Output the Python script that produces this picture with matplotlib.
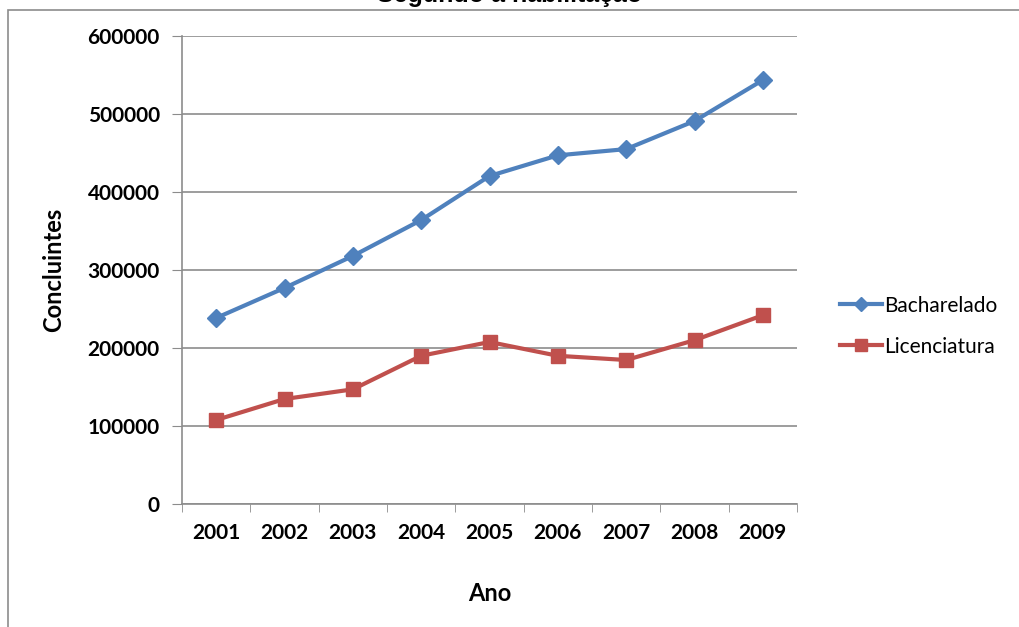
import matplotlib.pyplot as plt
from matplotlib.patches import Rectangle

anos = ["2001", "2002", "2003", "2004", "2005", "2006", "2007", "2008", "2009"]
bacharelado = [238500, 277000, 318000, 364000, 420500, 447000, 455000, 491000, 543500]
licenciatura = [107700, 134600, 147000, 190000, 207700, 190000, 184600, 210000, 242000]
yticks = [0, 100000, 200000, 300000, 400000, 500000, 600000]

plt.rcParams['font.family'] = ['Lato', 'DejaVu Sans']

fig = plt.figure(figsize=(10.19, 6.27), dpi=100)
W, H = 1019, 627

# borda da área do gráfico (estilo Excel)
fig.patches.append(Rectangle((8 / W, -0.1), 1.2, (H - 10) / H + 0.1, transform=fig.transFigure,
                             fill=False, edgecolor='#8c8c8c', lw=1.2))
fig.text(510 / W, 1.0 + 5 / H, "Segundo a habilitação", ha='center', va='center',
         fontsize=18, fontweight='bold', family='Liberation Sans')

ax = fig.add_axes([182 / W, 1 - 504 / H, (797 - 182) / W, (504 - 36) / H])
x = list(range(len(anos)))
ax.plot(x, bacharelado, color='#4F81BD', lw=3, marker='D', ms=9, label='Bacharelado')
ax.plot(x, licenciatura, color='#C0504D', lw=3, marker='s', ms=10, label='Licenciatura')

ax.set_xlim(-0.5, len(anos) - 0.5)
ax.set_ylim(0, 600000)
ax.set_yticks(yticks)
ax.set_yticklabels([str(v) for v in yticks])
ax.set_xticks(x)
ax.set_xticklabels(anos)
ax.set_xticks([i + 0.5 for i in range(-1, len(anos))], minor=True)
ax.tick_params(axis='x', which='major', length=0, pad=14)
ax.tick_params(axis='x', which='minor', length=6, color='#8c8c8c', direction='out')
ax.tick_params(axis='y', length=7, color='#8c8c8c', pad=9)
for lab in ax.get_xticklabels() + ax.get_yticklabels():
    lab.set_fontsize(15)
    lab.set_fontweight('bold')
ax.grid(axis='y', color='#8c8c8c', lw=1.2)
ax.set_axisbelow(True)
for s in ['top', 'right']:
    ax.spines[s].set_visible(False)
for s in ['left', 'bottom']:
    ax.spines[s].set_color('#8c8c8c')
    ax.spines[s].set_linewidth(1.2)

ax.set_ylabel("Concluintes", fontsize=17, fontweight='bold', labelpad=16)
ax.set_xlabel("Ano", fontsize=17, fontweight='bold', labelpad=28)

ax.legend(loc='center left', bbox_to_anchor=(1.04, 0.38), frameon=False, fontsize=15,
          handlelength=2.0, handletextpad=0.1, labelspacing=1.0, markerscale=0.8)

fig.savefig("out.png", dpi=100)
